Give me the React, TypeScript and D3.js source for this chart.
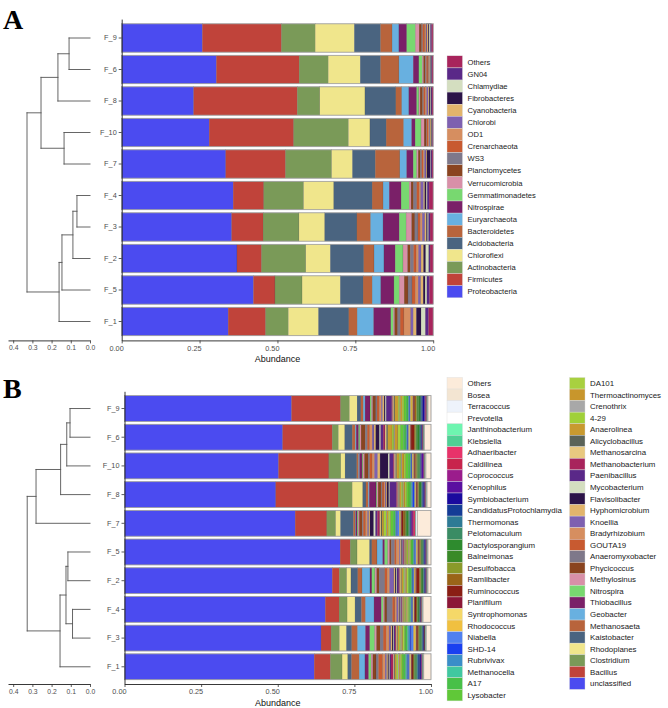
import { useEffect, useRef } from 'react';
import * as d3 from 'd3';

const FONT = '"Liberation Sans", Arial, Helvetica, sans-serif';

// ---------- panel A : phylum level ----------
const phylumSamples = ['F_9', 'F_6', 'F_8', 'F_10', 'F_7', 'F_4', 'F_3', 'F_2', 'F_5', 'F_1'];

// stacking order, left to right
const phyla = [
  'Proteobacteria', 'Firmicutes', 'Actinobacteria', 'Chloroflexi', 'Acidobacteria',
  'Bacteroidetes', 'Euryarchaeota', 'Nitrospirae', 'Gemmatimonadetes', 'Verrucomicrobia',
  'Planctomycetes', 'WS3', 'Crenarchaeota', 'OD1', 'Chlorobi',
  'Cyanobacteria', 'Fibrobacteres', 'Chlamydiae', 'GN04', 'Others',
];
const phylumColors = [
  '#4b4bf0', '#c0433a', '#7a9a58', '#f0e68c', '#4a6480',
  '#b8643c', '#68b0e0', '#7a2068', '#78d870', '#d890a8',
  '#8a4420', '#7e788a', '#c85a30', '#d68e60', '#7e60b0',
  '#e2b46c', '#2c1448', '#d4dec0', '#5a2888', '#a8245c',
];
// one row per sample (same order as phylumSamples)
const phylumAbund = [
  [0.259, 0.254, 0.108, 0.126, 0.084, 0.037, 0.022, 0.025, 0.028, 0.012, 0.008, 0.003, 0.007, 0.004, 0.003, 0.004, 0.003, 0.004, 0.004, 0.005],
  [0.304, 0.266, 0.093, 0.103, 0.065, 0.059, 0.046, 0.018, 0.011, 0.004, 0.006, 0.003, 0.005, 0.003, 0.002, 0.002, 0.002, 0.002, 0.002, 0.004],
  [0.231, 0.333, 0.072, 0.145, 0.099, 0.019, 0.023, 0.025, 0.007, 0.004, 0.008, 0.003, 0.006, 0.004, 0.005, 0.003, 0.004, 0.002, 0.003, 0.004],
  [0.281, 0.271, 0.176, 0.069, 0.052, 0.056, 0.026, 0.011, 0.019, 0.010, 0.006, 0.002, 0.005, 0.004, 0.002, 0.003, 0.002, 0.001, 0.002, 0.002],
  [0.334, 0.192, 0.148, 0.067, 0.073, 0.079, 0.022, 0.021, 0.011, 0.005, 0.007, 0.004, 0.005, 0.004, 0.005, 0.003, 0.010, 0.002, 0.004, 0.004],
  [0.358, 0.098, 0.128, 0.097, 0.123, 0.035, 0.020, 0.038, 0.026, 0.006, 0.008, 0.010, 0.008, 0.005, 0.009, 0.004, 0.005, 0.003, 0.006, 0.013],
  [0.353, 0.101, 0.115, 0.083, 0.103, 0.044, 0.040, 0.052, 0.022, 0.018, 0.010, 0.010, 0.008, 0.006, 0.008, 0.005, 0.004, 0.003, 0.005, 0.010],
  [0.370, 0.079, 0.142, 0.079, 0.107, 0.033, 0.032, 0.036, 0.025, 0.015, 0.009, 0.010, 0.008, 0.008, 0.008, 0.008, 0.007, 0.010, 0.004, 0.010],
  [0.423, 0.069, 0.087, 0.123, 0.073, 0.029, 0.028, 0.042, 0.017, 0.016, 0.012, 0.013, 0.010, 0.010, 0.008, 0.008, 0.006, 0.006, 0.008, 0.012],
  [0.342, 0.120, 0.073, 0.097, 0.097, 0.027, 0.053, 0.055, 0.008, 0.004, 0.010, 0.008, 0.012, 0.022, 0.008, 0.010, 0.015, 0.014, 0.010, 0.015],
];

// ---------- panel B : genus level ----------
const genusSamples = ['F_9', 'F_6', 'F_10', 'F_8', 'F_7', 'F_5', 'F_2', 'F_4', 'F_3', 'F_1'];

const genera = [
  'unclassified', 'Bacillus', 'Clostridium', 'Rhodoplanes', 'Kaistobacter',
  'Methanosaeta', 'Geobacter', 'Thiobacillus', 'Nitrospira', 'Methylosinus',
  'Phycicoccus', 'Anaeromyxobacter', 'GOUTA19', 'Bradyrhizobium', 'Knoellia',
  'Hyphomicrobium', 'Flavisolibacter', 'Mycobacterium', 'Paenibacillus', 'Methanobacterium',
  'Methanosarcina', 'Alicyclobacillus', 'Anaerolinea', '4-29', 'Crenothrix',
  'Thermoactinomyces', 'DA101', 'Lysobacter', 'A17', 'Methanocella',
  'Rubrivivax', 'SHD-14', 'Niabella', 'Rhodococcus', 'Syntrophomonas',
  'Planifilum', 'Ruminococcus', 'Ramlibacter', 'Desulfobacca', 'Balneimonas',
  'Dactylosporangium', 'Pelotomaculum', 'Thermomonas', 'CandidatusProtochlamydia', 'Symbiobacterium',
  'Xenophilus', 'Coprococcus', 'Caldilinea', 'Adhaeribacter', 'Klebsiella',
  'Janthinobacterium', 'Prevotella', 'Terracoccus', 'Bosea', 'Others',
];
const genusColors = [
  '#4b4bf0', '#c0433a', '#7a9a58', '#f0e68c', '#4a6480',
  '#b8643c', '#68b0e0', '#7a2068', '#78d870', '#d890a8',
  '#8a4420', '#7e788a', '#c85a30', '#d68e60', '#7e60b0',
  '#e2b46c', '#2c1448', '#d4dec0', '#5a2888', '#a8245c',
  '#e8c880', '#5a6358', '#c89a30', '#a0d038', '#a8a8a8',
  '#c8962c', '#a8d040', '#60c838', '#48c048', '#40c8a0',
  '#3a8ec8', '#1a40f0', '#5080f0', '#f0c040', '#f5d868',
  '#8c1637', '#8a1e14', '#9a6418', '#8a9a2a', '#3a8a28',
  '#2e8b2e', '#3a8c64', '#2d7a95', '#143c96', '#1a0a9e',
  '#5a0fa0', '#9b1c8c', '#c8244c', '#e8336a', '#4fcf94',
  '#6ef5b0', '#ffffff', '#eef3fb', '#f3e5d2', '#fcebda',
];
const genusAbund = [
  [0.545, 0.160, 0.029, 0.025, 0.012, 0.008, 0.006, 0.016, 0.005, 0.004, 0.010, 0.004, 0.008, 0.006, 0.004,
   0.005, 0.004, 0.003, 0.018, 0.003, 0.004, 0.003, 0.011, 0.005, 0.002, 0.006, 0.006, 0.007, 0.006, 0.002,
   0.002, 0.002, 0.002, 0.005, 0.003, 0.002, 0.004, 0.005, 0.003, 0.004, 0.005, 0.003, 0.002, 0.004, 0.006,
   0.002, 0.002, 0.002, 0.001, 0.001, 0.001, 0.001, 0.001, 0.001, 0.009],
  [0.516, 0.162, 0.020, 0.021, 0.024, 0.010, 0.003, 0.008, 0.004, 0.004, 0.014, 0.006, 0.008, 0.008, 0.006,
   0.006, 0.012, 0.004, 0.008, 0.006, 0.005, 0.004, 0.014, 0.006, 0.003, 0.010, 0.008, 0.010, 0.008, 0.003,
   0.002, 0.002, 0.002, 0.003, 0.003, 0.002, 0.010, 0.004, 0.003, 0.003, 0.006, 0.004, 0.002, 0.002, 0.002,
   0.001, 0.001, 0.001, 0.001, 0.001, 0.001, 0.001, 0.001, 0.001, 0.020],
  [0.502, 0.164, 0.039, 0.014, 0.038, 0.006, 0.003, 0.008, 0.003, 0.005, 0.012, 0.005, 0.008, 0.008, 0.010,
   0.008, 0.026, 0.005, 0.012, 0.004, 0.004, 0.003, 0.008, 0.006, 0.003, 0.007, 0.006, 0.008, 0.006, 0.002,
   0.002, 0.002, 0.001, 0.003, 0.002, 0.002, 0.003, 0.004, 0.003, 0.003, 0.004, 0.002, 0.001, 0.002, 0.001,
   0.006, 0.002, 0.001, 0.001, 0.001, 0.001, 0.001, 0.001, 0.001, 0.016],
  [0.495, 0.204, 0.046, 0.035, 0.010, 0.008, 0.003, 0.022, 0.003, 0.004, 0.010, 0.003, 0.006, 0.004, 0.003,
   0.003, 0.006, 0.003, 0.022, 0.004, 0.003, 0.003, 0.006, 0.005, 0.002, 0.005, 0.006, 0.007, 0.006, 0.003,
   0.003, 0.005, 0.002, 0.002, 0.002, 0.002, 0.003, 0.003, 0.002, 0.003, 0.004, 0.002, 0.002, 0.003, 0.003,
   0.002, 0.001, 0.001, 0.001, 0.001, 0.001, 0.001, 0.001, 0.001, 0.012],
  [0.557, 0.103, 0.029, 0.016, 0.042, 0.006, 0.002, 0.004, 0.003, 0.004, 0.010, 0.003, 0.008, 0.006, 0.004,
   0.004, 0.012, 0.006, 0.006, 0.008, 0.004, 0.003, 0.006, 0.008, 0.002, 0.005, 0.008, 0.008, 0.006, 0.002,
   0.003, 0.003, 0.006, 0.003, 0.002, 0.002, 0.005, 0.006, 0.003, 0.003, 0.006, 0.003, 0.002, 0.002, 0.002,
   0.002, 0.004, 0.002, 0.004, 0.001, 0.001, 0.001, 0.004, 0.002, 0.043],
  [0.703, 0.033, 0.022, 0.041, 0.007, 0.017, 0.019, 0.006, 0.010, 0.006, 0.006, 0.010, 0.006, 0.010, 0.003,
   0.003, 0.002, 0.002, 0.003, 0.003, 0.002, 0.002, 0.004, 0.004, 0.002, 0.003, 0.004, 0.004, 0.004, 0.002,
   0.003, 0.002, 0.003, 0.003, 0.002, 0.002, 0.003, 0.004, 0.002, 0.002, 0.003, 0.002, 0.002, 0.002, 0.003,
   0.001, 0.001, 0.001, 0.001, 0.001, 0.001, 0.001, 0.001, 0.001, 0.009],
  [0.678, 0.023, 0.024, 0.014, 0.022, 0.014, 0.026, 0.006, 0.010, 0.006, 0.008, 0.018, 0.008, 0.008, 0.014,
   0.004, 0.003, 0.003, 0.006, 0.003, 0.004, 0.002, 0.005, 0.005, 0.003, 0.004, 0.005, 0.005, 0.005, 0.002,
   0.003, 0.002, 0.002, 0.003, 0.002, 0.002, 0.010, 0.004, 0.002, 0.003, 0.003, 0.002, 0.002, 0.002, 0.002,
   0.001, 0.001, 0.001, 0.001, 0.001, 0.001, 0.001, 0.001, 0.001, 0.009],
  [0.656, 0.045, 0.026, 0.026, 0.021, 0.013, 0.028, 0.024, 0.006, 0.004, 0.008, 0.018, 0.008, 0.006, 0.006,
   0.003, 0.002, 0.002, 0.003, 0.002, 0.002, 0.002, 0.004, 0.004, 0.002, 0.003, 0.004, 0.003, 0.003, 0.002,
   0.002, 0.002, 0.002, 0.002, 0.002, 0.002, 0.004, 0.003, 0.002, 0.002, 0.003, 0.002, 0.001, 0.001, 0.001,
   0.001, 0.001, 0.001, 0.001, 0.001, 0.001, 0.001, 0.001, 0.001, 0.025],
  [0.642, 0.033, 0.027, 0.023, 0.017, 0.019, 0.026, 0.014, 0.016, 0.006, 0.012, 0.010, 0.010, 0.009, 0.006,
   0.004, 0.003, 0.003, 0.004, 0.003, 0.003, 0.002, 0.005, 0.005, 0.003, 0.004, 0.005, 0.005, 0.005, 0.003,
   0.006, 0.003, 0.008, 0.005, 0.003, 0.002, 0.004, 0.003, 0.002, 0.003, 0.004, 0.002, 0.002, 0.002, 0.002,
   0.001, 0.001, 0.001, 0.001, 0.001, 0.001, 0.001, 0.001, 0.001, 0.014],
  [0.621, 0.053, 0.038, 0.019, 0.012, 0.025, 0.019, 0.012, 0.008, 0.006, 0.010, 0.008, 0.014, 0.008, 0.005,
   0.004, 0.003, 0.003, 0.004, 0.008, 0.003, 0.002, 0.005, 0.006, 0.003, 0.004, 0.005, 0.006, 0.006, 0.003,
   0.004, 0.003, 0.003, 0.003, 0.002, 0.002, 0.004, 0.003, 0.002, 0.003, 0.004, 0.002, 0.003, 0.005, 0.004,
   0.002, 0.001, 0.001, 0.001, 0.001, 0.001, 0.001, 0.001, 0.001, 0.023],
];

// ---------- clustering trees (merge heights) ----------
type Tree = string | { h: number; kids: [Tree, Tree] };
const join = (h: number, a: Tree, b: Tree): Tree => ({ h, kids: [a, b] });

const phylumTree = join(0.328,
  join(0.255, join(0.167, join(0.109, 'F_9', 'F_6'), 'F_8'), join(0.135, 'F_10', 'F_7')),
  join(0.161, join(0.146, join(0.089, join(0.068, 'F_4', 'F_3'), 'F_2'), 'F_5'), 'F_1'));

const genusTree = join(0.327,
  join(0.281, join(0.153, join(0.121, join(0.104, 'F_9', 'F_6'), 'F_10'), 'F_8'), 'F_7'),
  join(0.156, join(0.125, join(0.115, 'F_5', 'F_2'), join(0.091, 'F_4', 'F_3')), 'F_1'));

interface LegendCol { x: number; top: number; step: number; items: string[]; size: number }
interface PanelOpts {
  samples: string[];
  names: string[];
  colors: string[];
  rows: number[][];
  tree: Tree;
  xRange: [number, number];
  yRange: [number, number];
  letter: string;
  letterY: number;
  legend: LegendCol[];
}

function drawPanel(svg: any, o: PanelOpts) {
  const g = svg.append('g');
  const y = d3.scaleBand<string>().domain(o.samples).range(o.yRange).paddingInner(0.1).paddingOuter(0.15);
  const x = d3.scaleLinear().domain([0, 1]).range(o.xRange);
  const color = d3.scaleOrdinal<string, string>().domain(o.names).range(o.colors);

  const table = o.samples.map((s, i) => {
    const row: any = { sample: s };
    o.names.forEach((n, j) => (row[n] = o.rows[i][j]));
    return row;
  });
  const series = d3.stack<any>().keys(o.names).offset(d3.stackOffsetExpand)(table);

  // stacked bars
  g.append('g').selectAll('g').data(series).join('g')
    .attr('fill', (d: any) => color(d.key))
    .selectAll('rect').data((d: any) => d).join('rect')
    .attr('x', (d: any) => x(d[0]))
    .attr('width', (d: any) => Math.max(0, x(d[1]) - x(d[0])))
    .attr('y', (d: any) => y(d.data.sample))
    .attr('height', y.bandwidth())
    .attr('stroke', '#333')
    .attr('stroke-width', 0.25)
    .attr('stroke-opacity', 0.55);

  g.append('g').selectAll('rect').data(o.samples).join('rect')
    .attr('x', x(0)).attr('width', x(1) - x(0))
    .attr('y', (d: string) => y(d)).attr('height', y.bandwidth())
    .attr('fill', 'none').attr('stroke', '#a3a3a3').attr('stroke-width', 0.8);

  const base = o.yRange[1];

  // x axis
  const xa = g.append('g').attr('transform', `translate(0,${base})`)
    .call(d3.axisBottom(x).tickValues([0, 0.25, 0.5, 0.75, 1]).tickFormat(d3.format('.2f')).tickSize(3).tickSizeOuter(0).tickPadding(2));
  xa.selectAll('text').attr('text-anchor', 'end').attr('x', 1.5);

  // y axis
  const ya = g.append('g').attr('transform', `translate(${o.xRange[0]},0)`)
    .call(d3.axisLeft(y).tickSize(3).tickSizeOuter(0).tickPadding(2));

  [xa, ya].forEach((a: any) => {
    a.select('.domain').attr('stroke', '#222').attr('stroke-width', 0.9);
    a.selectAll('line').attr('stroke', '#333').attr('stroke-width', 0.8);
    a.selectAll('text').attr('fill', '#4d4d4d').attr('font-size', 7.3).attr('font-family', FONT);
  });

  g.append('text')
    .attr('x', (o.xRange[0] + o.xRange[1]) / 2).attr('y', base + 21.5)
    .attr('text-anchor', 'middle').attr('font-size', 9).attr('font-family', FONT).attr('fill', '#111')
    .text('Abundance');

  // dendrogram
  const dx = d3.scaleLinear().domain([0, 0.427]).range([90, 8]);
  const segs: number[][] = [];
  const walk = (t: Tree): { y: number; h: number } => {
    if (typeof t === 'string') return { y: (y(t) as number) + y.bandwidth() / 2, h: 0 };
    const a = walk(t.kids[0]);
    const b = walk(t.kids[1]);
    segs.push([dx(a.h), a.y, dx(t.h), a.y]);
    segs.push([dx(b.h), b.y, dx(t.h), b.y]);
    segs.push([dx(t.h), a.y, dx(t.h), b.y]);
    return { y: (a.y + b.y) / 2, h: t.h };
  };
  walk(o.tree);
  g.append('g').selectAll('line').data(segs).join('line')
    .attr('x1', (d: number[]) => d[0]).attr('y1', (d: number[]) => d[1])
    .attr('x2', (d: number[]) => d[2]).attr('y2', (d: number[]) => d[3])
    .attr('stroke', '#555').attr('stroke-width', 0.9).attr('stroke-linecap', 'square');

  const da = g.append('g').attr('transform', `translate(0,${base})`)
    .call(d3.axisBottom(dx).tickValues([0.4, 0.3, 0.2, 0.1, 0]).tickFormat(d3.format('.1f')).tickSize(3).tickSizeOuter(0).tickPadding(2));
  da.select('.domain').attr('stroke', '#222').attr('stroke-width', 0.9);
  da.selectAll('line').attr('stroke', '#333').attr('stroke-width', 0.8);
  da.selectAll('text').attr('fill', '#4d4d4d').attr('font-size', 6.8).attr('font-family', FONT);

  // legend columns
  o.legend.forEach((col) => {
    const lg = g.append('g');
    lg.selectAll('rect').data(col.items).join('rect')
      .attr('x', col.x).attr('y', (_: string, i: number) => col.top + i * col.step)
      .attr('width', 15.5).attr('height', col.step)
      .attr('fill', (d: string) => color(d))
      .attr('stroke', '#dcdcdc').attr('stroke-width', 0.4);
    lg.selectAll('text').data(col.items).join('text')
      .attr('x', col.x + 20.5).attr('y', (_: string, i: number) => col.top + (i + 0.5) * col.step)
      .attr('dy', '0.35em').attr('font-size', col.size).attr('font-family', FONT).attr('fill', '#1a1a1a')
      .text((d: string) => d);
  });

  g.append('text')
    .attr('x', 3).attr('y', o.letterY)
    .attr('font-family', '"Liberation Serif", "Times New Roman", serif')
    .attr('font-weight', 'bold').attr('font-size', 28).attr('fill', '#000')
    .text(o.letter);
}

export default function App() {
  const svgRef = useRef<SVGSVGElement>(null);

  useEffect(() => {
    if (!svgRef.current) return;
    const svg = d3.select(svgRef.current);
    svg.selectAll('*').remove();

    const phylaLegend = phyla.slice().reverse();
    drawPanel(svg, {
      samples: phylumSamples,
      names: phyla,
      colors: phylumColors,
      rows: phylumAbund,
      tree: phylumTree,
      xRange: [121.7, 433.2],
      yRange: [19.1, 340.4],
      letter: 'A',
      letterY: 29,
      legend: [{ x: 447, top: 55.8, step: 12.1, items: phylaLegend, size: 7.6 }],
    });

    const generaLegend = genera.slice().reverse();
    drawPanel(svg, {
      samples: genusSamples,
      names: genera,
      colors: genusColors,
      rows: genusAbund,
      tree: genusTree,
      xRange: [124.5, 431],
      yRange: [391.3, 684],
      letter: 'B',
      letterY: 398,
      legend: [
        { x: 447, top: 377.5, step: 11.55, items: generaLegend.slice(0, 28), size: 7.9 },
        { x: 569.5, top: 377.5, step: 11.55, items: generaLegend.slice(28), size: 7.9 },
      ],
    });
  }, []);

  return (
    <svg
      ref={svgRef}
      width={668}
      height={708}
      viewBox="0 0 668 708"
      style={{ position: 'absolute', left: 0, top: 0, background: '#fff' }}
    />
  );
}
